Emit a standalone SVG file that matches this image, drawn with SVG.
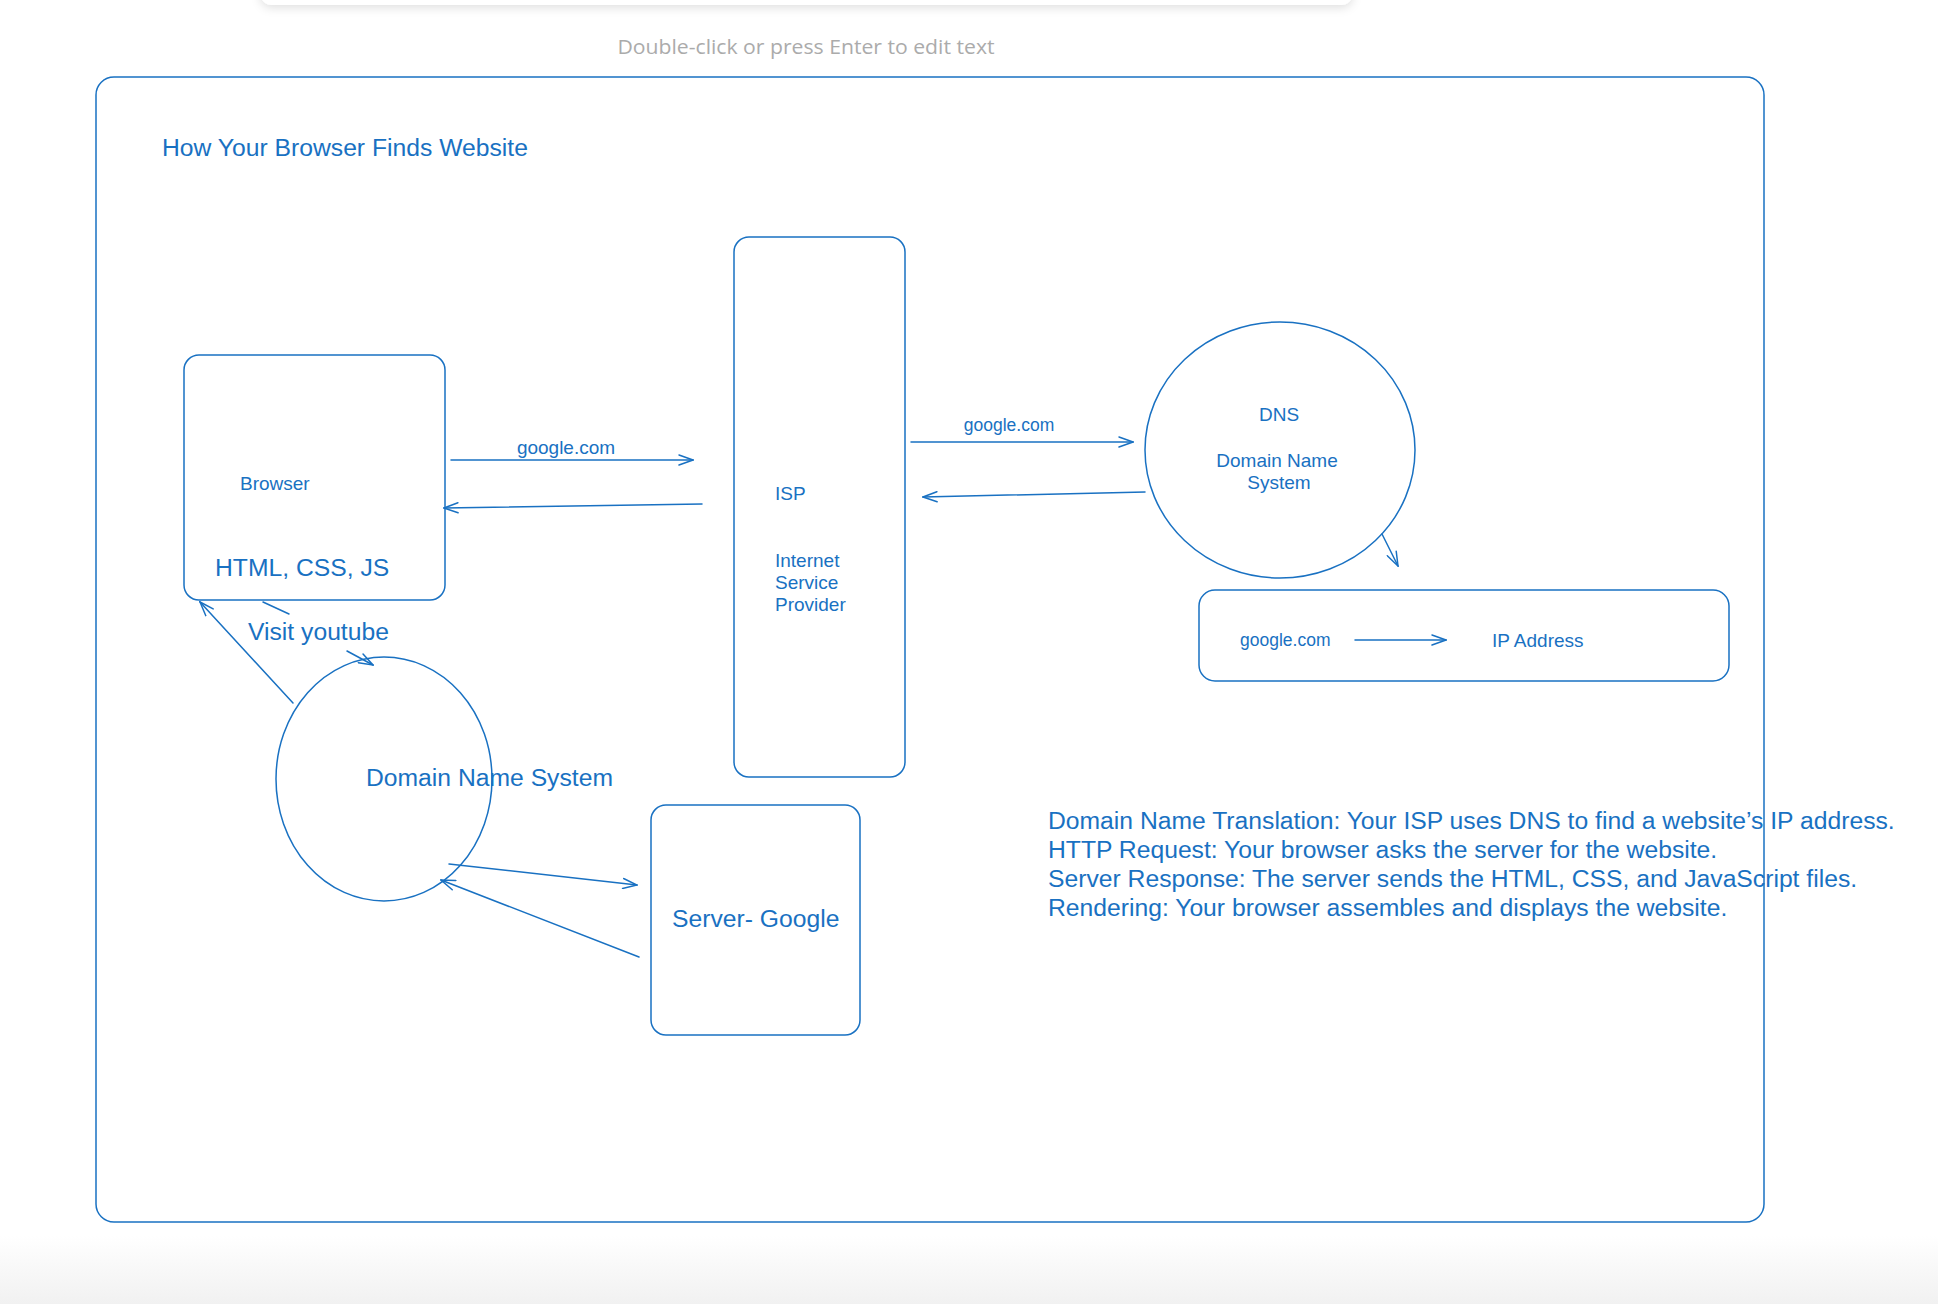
<svg xmlns="http://www.w3.org/2000/svg" width="1938" height="1304" viewBox="0 0 1938 1304">
<defs>
<style>
.s{fill:none;stroke:#1971c2;stroke-width:1.5;stroke-linecap:round;stroke-linejoin:round}
.t{font-family:"Liberation Sans",Arial,sans-serif;fill:#1971c2}
.big{font-size:24.7px}
.sm{font-size:19px}
.xs{font-size:17.5px}
</style>
<marker id="ah" viewBox="0 0 16 12" refX="15" refY="6" markerWidth="16" markerHeight="12" markerUnits="userSpaceOnUse" orient="auto">
<path d="M1,1 L15,6 L1,11" fill="none" stroke="#1971c2" stroke-width="1.5" stroke-linecap="round"/>
</marker>
<linearGradient id="bg" x1="0" y1="0" x2="0" y2="1">
<stop offset="0" stop-color="#ffffff"/>
<stop offset="1" stop-color="#f1f1f1"/>
</linearGradient>
<filter id="sh" x="-5%" y="-100%" width="110%" height="400%">
<feDropShadow dx="0" dy="3" stdDeviation="5" flood-color="#000" flood-opacity="0.12"/>
</filter>
</defs>
<rect x="0" y="0" width="1938" height="1304" fill="#ffffff"/>
<rect x="0" y="1236" width="1938" height="68" fill="url(#bg)"/>
<g id="toolbar">
<rect x="260" y="-30" width="1093" height="35" rx="12" fill="#ffffff" filter="url(#sh)"/>
</g>
<text x="806" y="54" text-anchor="middle" font-family="'Open Sans','Noto Sans',sans-serif" font-size="20" fill="#ababab" textLength="377" lengthAdjust="spacingAndGlyphs">Double-click or press Enter to edit text</text>

<g id="frame">
<rect class="s" x="96" y="77" width="1668" height="1145" rx="18"/>
</g>
<g id="title">
<text class="t big" x="162" y="156">How Your Browser Finds Website</text>
</g>

<g id="browser">
<rect class="s" x="184" y="355" width="261" height="245" rx="15"/>
<text class="t sm" x="240" y="490">Browser</text>
<text class="t big" x="215" y="576">HTML, CSS, JS</text>
</g>

<g id="isp">
<rect class="s" x="734" y="237" width="171" height="540" rx="15"/>
<text class="t sm" x="775" y="500">ISP</text>
<text class="t sm" x="775" y="567">Internet</text>
<text class="t sm" x="775" y="589">Service</text>
<text class="t sm" x="775" y="611">Provider</text>
</g>

<g id="dns">
<ellipse class="s" cx="1280" cy="450" rx="135" ry="128"/>
<text class="t sm" x="1279" y="421" text-anchor="middle">DNS</text>
<text class="t sm" x="1277" y="467" text-anchor="middle">Domain Name</text>
<text class="t sm" x="1279" y="489" text-anchor="middle">System</text>
</g>

<g id="ip-box">
<rect class="s" x="1199" y="590" width="530" height="91" rx="16"/>
<text class="t xs" x="1240" y="646">google.com</text>
<text class="t sm" x="1492" y="647">IP Address</text>
</g>

<g id="local-dns">
<ellipse class="s" cx="384" cy="779" rx="108" ry="122"/>
<text class="t big" x="366" y="786">Domain Name System</text>
</g>

<g id="server">
<rect class="s" x="651" y="805" width="209" height="230" rx="15"/>
<text class="t big" x="672" y="927">Server- Google</text>
</g>

<g id="paragraph">
<text class="t big" x="1048" y="829">Domain Name Translation: Your ISP uses DNS to find a website’s IP address.</text>
<text class="t big" x="1048" y="858">HTTP Request: Your browser asks the server for the website.</text>
<text class="t big" x="1048" y="887">Server Response: The server sends the HTML, CSS, and JavaScript files.</text>
<text class="t big" x="1048" y="916">Rendering: Your browser assembles and displays the website.</text>
</g>

<g id="connectors">
<path class="s" d="M451,460 L693,460" marker-end="url(#ah)"/>
<text class="t sm" x="566" y="454" text-anchor="middle">google.com</text>
<path class="s" d="M702,504 L444,508" marker-end="url(#ah)"/>
<path class="s" d="M911,442 L1133,442" marker-end="url(#ah)"/>
<text class="t xs" x="1009" y="431" text-anchor="middle">google.com</text>
<path class="s" d="M1145,492 L923,497" marker-end="url(#ah)"/>
<path class="s" d="M1382,534 L1398,566" marker-end="url(#ah)"/>
<path class="s" d="M1355,640 L1446,640" marker-end="url(#ah)"/>
<path class="s" d="M263,602 L289,614"/>
<path class="s" d="M347,651 L373,665" marker-end="url(#ah)"/>
<text class="t big" x="248" y="640">Visit youtube</text>
<path class="s" d="M293,703 L200,602" marker-end="url(#ah)"/>
<path class="s" d="M449,864 L637,885" marker-end="url(#ah)"/>
<path class="s" d="M639,957 L441,880" marker-end="url(#ah)"/>
</g>
</svg>
